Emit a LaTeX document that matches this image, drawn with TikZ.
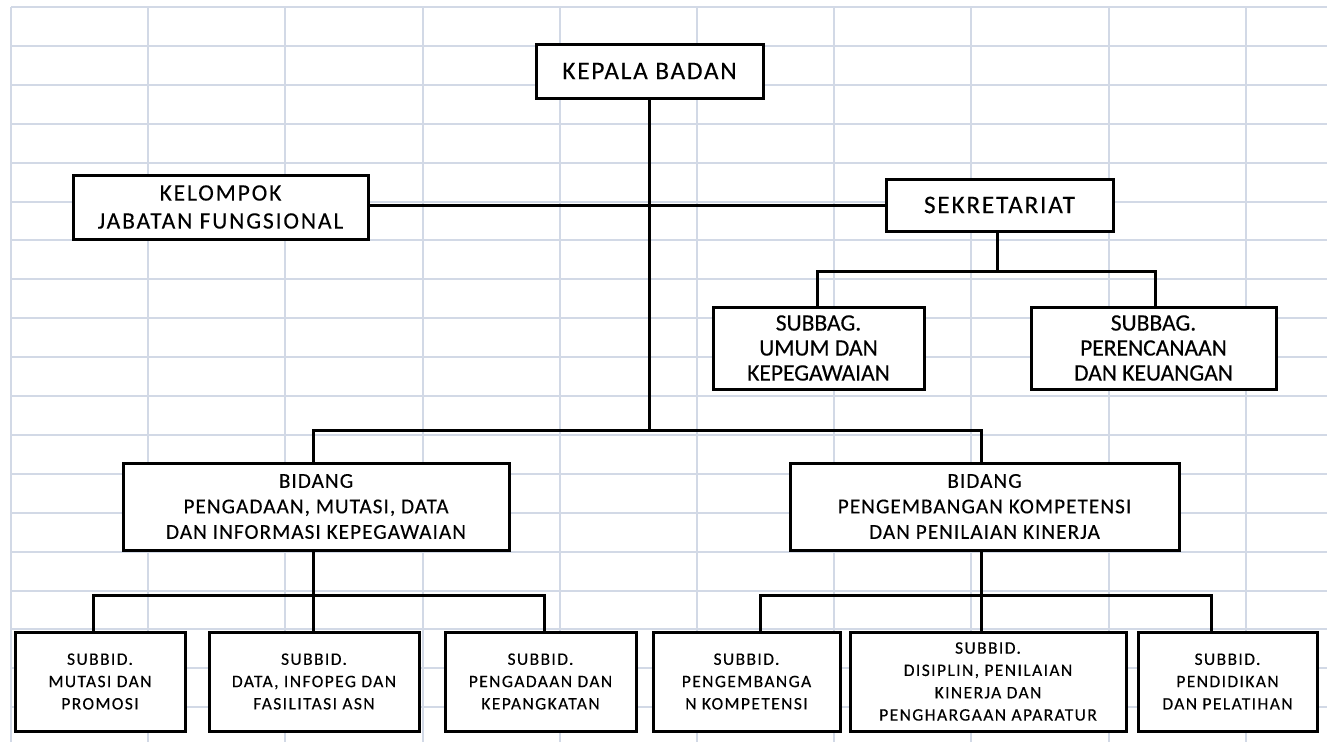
\documentclass[tikz,border=0pt]{standalone}
\usepackage{fontspec}
\setmainfont{Carlito}
\newfontfamily\fbig[LetterSpace=7,FakeBold=0.25]{Carlito}
\newfontfamily\fkel[LetterSpace=8,FakeBold=0.25]{Carlito}
\newfontfamily\fmid[LetterSpace=5,FakeBold=0.25]{Carlito}
\newfontfamily\fsb[LetterSpace=0,FakeBold=0.25]{Carlito}
\newfontfamily\fsub[LetterSpace=8,FakeBold=0.25]{Carlito}
\definecolor{gridc}{RGB}{210,217,230}
\tikzset{
  gridline/.style={draw=gridc, line width=2pt},
  box/.style={draw=black, line width=3pt, fill=white, inner sep=0pt, align=center},
  conn/.style={draw=black, line width=3pt},
  top/.style={box, font=\fbig\fontsize{25.3}{30}\selectfont},
  kel/.style={box, font=\fkel\fontsize{23.5}{28}\selectfont},
  subbag/.style={box, font=\fsb\fontsize{23.5}{25}\selectfont, minimum height=82pt},
  bidang/.style={box, font=\fmid\fontsize{21.2}{25.5}\selectfont, minimum height=87pt},
  subbid/.style={box, font=\fsub\fontsize{17.5}{22.3}\selectfont, minimum height=99pt}
}
\begin{document}
\begin{tikzpicture}[x=1pt, y=-1pt]
\useasboundingbox (0,0) rectangle (1327,742);
\fill[white] (0,0) rectangle (1327,742);
% spreadsheet grid
\foreach \k in {0,...,18} \draw[gridline] (11,{7+38.9*\k}) -- (1327,{7+38.9*\k});
\foreach \k in {0,...,9} \draw[gridline] ({11+137.2*\k},7) -- ({11+137.2*\k},742);

% nodes
\node[top, minimum width=227pt, minimum height=54pt] (kb) at (649.5,71) {KEPALA BADAN};
\node[kel, minimum width=295pt, minimum height=64pt] (kjf) at (220.5,207) {KELOMPOK\\JABATAN FUNGSIONAL};
\node[top, minimum width=227pt, minimum height=52pt] (sek) at (999.5,205) {SEKRETARIAT};
\node[subbag, minimum width=211pt] (su) at (818.5,348) {SUBBAG.\\UMUM DAN\\KEPEGAWAIAN};
\node[subbag, minimum width=245pt] (sp) at (1153.5,348) {SUBBAG.\\PERENCANAAN\\DAN KEUANGAN};
\node[bidang, minimum width=386pt] (b1) at (316,506.5) {BIDANG\\PENGADAAN, MUTASI, DATA\\DAN INFORMASI KEPEGAWAIAN};
\node[bidang, minimum width=389pt] (b2) at (984.5,506.5) {BIDANG\\PENGEMBANGAN KOMPETENSI\\DAN PENILAIAN KINERJA};
\node[subbid, minimum width=170pt] (c1) at (100,681.5) {SUBBID.\\MUTASI DAN\\PROMOSI};
\node[subbid, minimum width=210pt] (c2) at (314,681.5) {SUBBID.\\DATA, INFOPEG DAN\\FASILITASI ASN};
\node[subbid, minimum width=191pt] (c3) at (540.5,681.5) {SUBBID.\\PENGADAAN DAN\\KEPANGKATAN};
\node[subbid, minimum width=187pt] (c4) at (746.5,681.5) {SUBBID.\\PENGEMBANGA\\N KOMPETENSI};
\node[subbid, minimum width=276pt] (c5) at (988,681.5) {SUBBID.\\DISIPLIN, PENILAIAN\\KINERJA DAN\\PENGHARGAAN APARATUR};
\node[subbid, minimum width=179pt] (c6) at (1227.5,681.5) {SUBBID.\\PENDIDIKAN\\DAN PELATIHAN};

% junctions
\coordinate (j0) at (649,430);
\coordinate (j1) at (997,271);
\coordinate (j2) at (313,595);
\coordinate (j3) at (981,595);

% connectors
\draw[conn] (kjf.east |- sek.west) -- (sek.west);
\draw[conn] ([xshift=-0.5pt]kb.south) -- (j0);
\draw[conn] ([xshift=-3pt]b1.north) |- (j0) -| ([xshift=-3.5pt]b2.north);
\draw[conn] ([xshift=-2.5pt]sek.south) -- (j1);
\draw[conn] ([xshift=-1.5pt]su.north) |- (j1) -| ([xshift=1.5pt]sp.north);
\draw[conn] ([xshift=-3pt]b1.south) -- (j2);
\draw[conn] ([xshift=-7pt]c1.north) |- (j2) -| ([xshift=3.5pt]c3.north);
\draw[conn] ([xshift=-1pt]c2.north) -- (j2);
\draw[conn] ([xshift=-3.5pt]b2.south) -- (j3);
\draw[conn] ([xshift=13.5pt]c4.north) |- (j3) -| ([xshift=-16.5pt]c6.north);
\draw[conn] ([xshift=-7pt]c5.north) -- (j3);
\end{tikzpicture}
\end{document}
